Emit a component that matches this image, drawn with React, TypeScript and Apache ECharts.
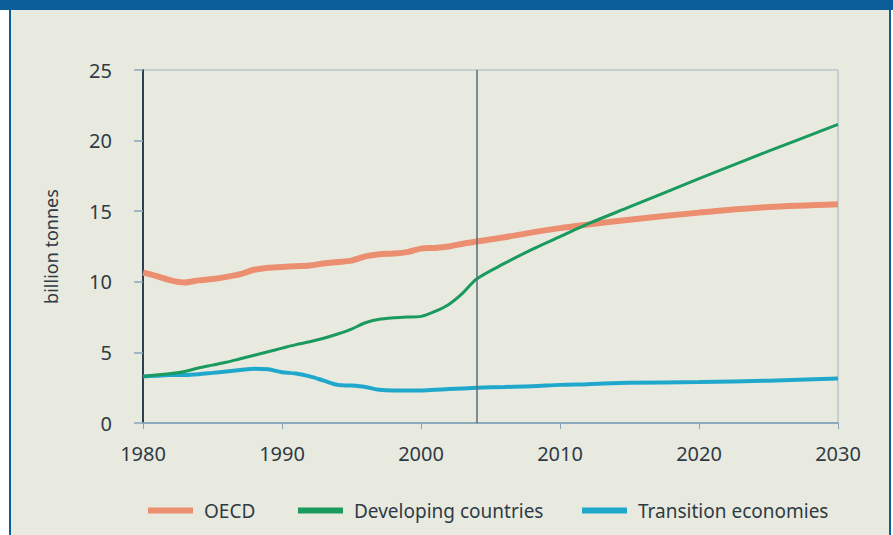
import React, { useEffect, useRef } from "react";
import * as echarts from "echarts";

const years = [
  1980, 1981, 1982, 1983, 1984, 1985, 1986, 1987, 1988, 1989, 1990, 1991, 1992,
  1993, 1994, 1995, 1996, 1997, 1998, 1999, 2000, 2001, 2002, 2003, 2004, 2006,
  2008, 2010, 2012, 2015, 2020, 2025, 2030,
];
const oecd = [
  10.65, 10.4, 10.1, 9.95, 10.1, 10.2, 10.35, 10.55, 10.85, 11.0, 11.05, 11.1, 11.15,
  11.3, 11.4, 11.5, 11.8, 11.95, 12.0, 12.1, 12.35, 12.4, 12.5, 12.7, 12.85, 13.15,
  13.5, 13.8, 14.05, 14.4, 14.9, 15.3, 15.5,
];
const developing = [
  3.3, 3.4, 3.5, 3.65, 3.9, 4.1, 4.3, 4.55, 4.8, 5.05, 5.3, 5.55, 5.75,
  6.0, 6.3, 6.65, 7.1, 7.35, 7.45, 7.5, 7.55, 7.9, 8.4, 9.2, 10.2, 11.3,
  12.3, 13.2, 14.1, 15.3, 17.3, 19.25, 21.15,
];
const transition = [
  3.3, 3.35, 3.4, 3.4, 3.45, 3.55, 3.65, 3.75, 3.85, 3.8, 3.6, 3.5, 3.3,
  3.0, 2.7, 2.65, 2.55, 2.35, 2.3, 2.3, 2.3, 2.35, 2.4, 2.45, 2.5, 2.55,
  2.6, 2.7, 2.75, 2.85, 2.9, 3.0, 3.15,
];
const baseYear = 2004;
const seriesNames = ["OECD", "Developing countries", "Transition economies"];
const yAxisName = "billion tonnes";

const FONT = "'Noto Sans', 'Liberation Sans', sans-serif";

export default function App() {
  const ref = useRef<HTMLDivElement>(null);
  useEffect(() => {
    if (!ref.current) return;
    const chart = echarts.init(ref.current, undefined, { renderer: "svg" });
    const zip = (vals: number[]) => years.map((y, i) => [y, vals[i]]);
    const legendBase = {
      top: 496,
      itemWidth: 45,
      itemHeight: 6,
      icon: "rect",
      itemGap: 0,
      textStyle: { fontFamily: FONT, fontSize: 19, color: "#2f3a44", padding: [0, 0, 0, 6] },
      selectedMode: false,
    };
    chart.setOption({
      animation: false,
      backgroundColor: "#ffffff",
      graphic: [
        { type: "rect", z: -100, shape: { x: 0, y: 0, width: 893, height: 10 }, style: { fill: "#0b5e9a" } },
        { type: "rect", z: -100, shape: { x: 9, y: 0, width: 882, height: 535 }, style: { fill: "#0b5e9a" } },
        { type: "rect", z: -99, shape: { x: 11, y: 10, width: 878, height: 525 }, style: { fill: "#e8eae0" } },
      ],
      grid: {
        left: 143,
        right: 55,
        top: 70,
        bottom: 112,
        show: true,
        borderColor: "#9fb3c3",
        borderWidth: 1,
        backgroundColor: "transparent",
      },
      legend: [
        { ...legendBase, left: 143, data: [seriesNames[0]] },
        { ...legendBase, left: 293, data: [seriesNames[1]] },
        { ...legendBase, left: 577, data: [seriesNames[2]] },
      ],
      xAxis: {
        type: "value",
        min: 1980,
        max: 2030,
        interval: 10,
        axisLine: { show: true, lineStyle: { color: "#7d9db5", width: 1.5 } },
        axisTick: { show: true, length: 6, lineStyle: { color: "#8aa5b8" } },
        axisLabel: {
          fontFamily: FONT,
          fontSize: 20,
          color: "#2f3a44",
          margin: 20,
          formatter: (v: number) => String(v),
        },
        splitLine: { show: false },
      },
      yAxis: {
        type: "value",
        min: 0,
        max: 25,
        interval: 5,
        name: yAxisName,
        nameLocation: "middle",
        nameGap: 83,
        nameRotate: 90,
        nameTextStyle: { fontFamily: FONT, fontSize: 18, color: "#2f3a44" },
        axisLine: { show: true, lineStyle: { color: "#2c3e50", width: 2 } },
        axisTick: { show: true, length: 9, lineStyle: { color: "#8aa5b8", width: 1.5 } },
        axisLabel: { fontFamily: FONT, fontSize: 20, color: "#2f3a44", margin: 31 },
        splitLine: { show: false },
      },
      series: [
        {
          name: seriesNames[0],
          type: "line",
          data: zip(oecd),
          symbol: "none",
          smooth: 0.3,
          color: "#ec8e70",
          lineStyle: { width: 6, color: "#ec8e70" },
          z: 2,
          markLine: {
            silent: true,
            symbol: "none",
            label: { show: false },
            lineStyle: { color: "#5b6b78", width: 1.5, type: "solid" },
            data: [{ xAxis: baseYear }],
          },
        },
        {
          name: seriesNames[2],
          type: "line",
          data: zip(transition),
          symbol: "none",
          smooth: 0.3,
          color: "#20a8cc",
          lineStyle: { width: 4, color: "#20a8cc" },
          z: 3,
        },
        {
          name: seriesNames[1],
          type: "line",
          data: zip(developing),
          symbol: "none",
          smooth: 0.3,
          color: "#1a9a5c",
          lineStyle: { width: 3, color: "#1a9a5c" },
          z: 4,
        },
      ],
    });
    return () => chart.dispose();
  }, []);
  return (
    <div
      ref={ref}
      style={{ position: "fixed", left: 0, top: 0, width: 893, height: 535 }}
    />
  );
}
